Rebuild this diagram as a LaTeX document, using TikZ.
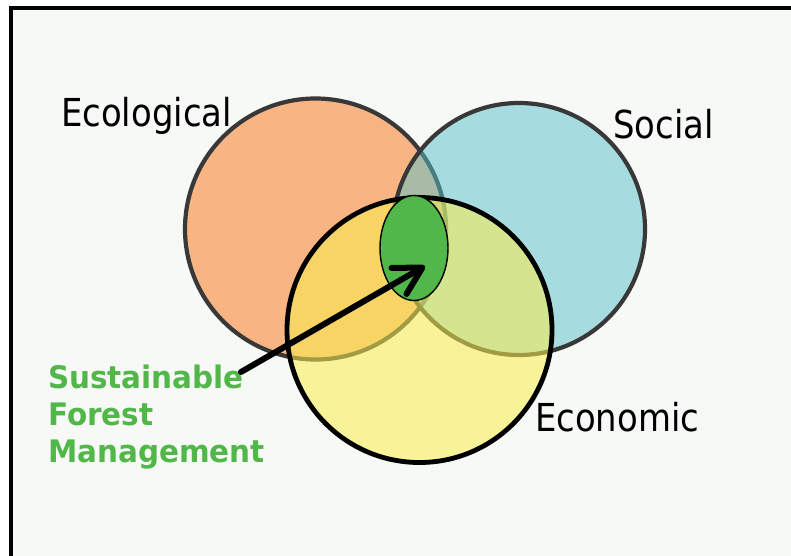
\documentclass[tikz,border=0pt]{standalone}
\usepackage{fontspec}
\setmainfont{DejaVu Sans}[FakeStretch=0.88, BoldFeatures={FakeStretch=0.95}]
\usetikzlibrary{shapes.geometric,arrows.meta}
\definecolor{panelbg}{RGB}{247,249,246}
\definecolor{ringgray}{RGB}{56,56,56}
\definecolor{ecolorange}{RGB}{248,181,131}
\definecolor{socialcyan}{RGB}{87,193,202}
\definecolor{econyellow}{RGB}{249,238,77}
\definecolor{sfmgreen}{RGB}{80,183,72}
\tikzset{
    ring/.style={circle, draw=ringgray, line width=4.2pt, inner sep=0pt},
    ringlabel/.style={font=\fontsize{38.5}{40}\selectfont, anchor=base west, inner sep=0pt}
}

\begin{document}
\begin{tikzpicture}[x=1pt, y=-1pt]
    \useasboundingbox (0,0) rectangle (791,555);
    \clip (0,0) rectangle (791,555);
    \draw[line width=4pt, fill=panelbg] (11,8) rectangle (830,600);

    \node[ring, fill=ecolorange, minimum size=261pt] (ecol) at (315.5,229) {};
    \node[ring, fill=socialcyan, fill opacity=0.5, minimum size=252pt] (social) at (519,229) {};
    \node[ring, draw=black, line width=4.8pt, fill=econyellow, fill opacity=0.55, minimum size=265pt] (econ) at (419.5,330) {};
    \node[ellipse, draw=black, line width=1.4pt, fill=sfmgreen, minimum width=68pt, minimum height=105pt, inner sep=0pt] (sfm) at (414,248) {};

    \node[ringlabel] (ecollabel) at (61,126) {Ecological};
    \node[ringlabel] (sociallabel) at (613,138) {Social};
    \node[ringlabel] (econlabel) at (535,431) {Economic};
    \node[font=\bfseries\fontsize{31}{37}\selectfont, text=sfmgreen, align=left, anchor=base west, inner sep=0pt] (sfmlabel) at (48,462) {Sustainable\\Forest\\Management};

    \coordinate (sfmtail) at (241,372);
    \coordinate (sfmtip) at (425,266);
    \draw[line width=6pt, line cap=round, -{Straight Barb[length=27pt, width=30pt, round]}] (sfmtail) -- (sfmtip);
\end{tikzpicture}
\end{document}
